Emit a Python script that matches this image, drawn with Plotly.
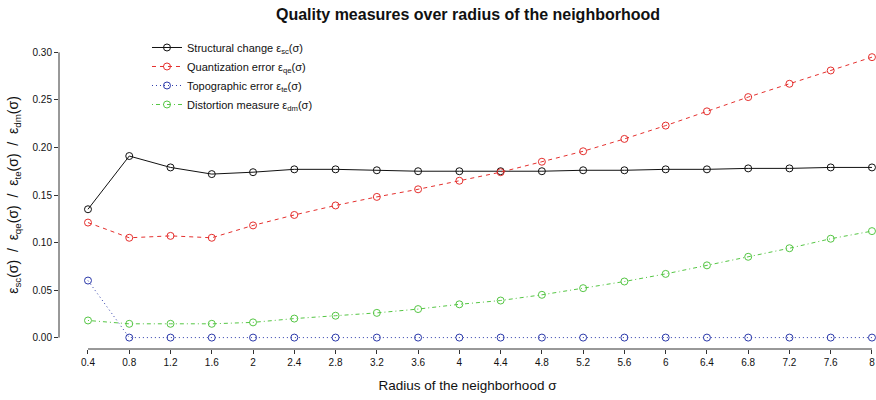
import plotly.graph_objects as go

radius = [0.4, 0.8, 1.2, 1.6, 2.0, 2.4, 2.8, 3.2, 3.6, 4.0,
          4.4, 4.8, 5.2, 5.6, 6.0, 6.4, 6.8, 7.2, 7.6, 8.0]
x_tick_labels = ["0.4", "0.8", "1.2", "1.6", "2", "2.4", "2.8", "3.2", "3.6", "4",
                 "4.4", "4.8", "5.2", "5.6", "6", "6.4", "6.8", "7.2", "7.6", "8"]
y_tick_values = [0.00, 0.05, 0.10, 0.15, 0.20, 0.25, 0.30]
y_tick_labels = ["0.00", "0.05", "0.10", "0.15", "0.20", "0.25", "0.30"]

structural_change = [0.135, 0.191, 0.179, 0.172, 0.174, 0.177, 0.177, 0.176, 0.175, 0.175,
                     0.175, 0.175, 0.176, 0.176, 0.177, 0.177, 0.178, 0.178, 0.179, 0.179]
quantization_error = [0.121, 0.105, 0.107, 0.105, 0.118, 0.129, 0.139, 0.148, 0.156, 0.165,
                      0.174, 0.185, 0.196, 0.209, 0.223, 0.238, 0.253, 0.267, 0.281, 0.295]
topographic_error = [0.060, 0.0, 0.0, 0.0, 0.0, 0.0, 0.0, 0.0, 0.0, 0.0,
                     0.0, 0.0, 0.0, 0.0, 0.0, 0.0, 0.0, 0.0, 0.0, 0.0]
distortion_measure = [0.018, 0.0145, 0.0145, 0.0145, 0.016, 0.020, 0.023, 0.026, 0.030, 0.035,
                      0.039, 0.045, 0.052, 0.059, 0.067, 0.076, 0.085, 0.094, 0.104, 0.112]

series_names = ["Structural change ε<sub>sc</sub>(σ)",
                "Quantization error ε<sub>qe</sub>(σ)",
                "Topographic error ε<sub>te</sub>(σ)",
                "Distortion measure ε<sub>dm</sub>(σ)"]
series_values = [structural_change, quantization_error, topographic_error, distortion_measure]
series_colors = ["#111111", "#E5302E", "#2C3AAA", "#55C644"]
series_dash = ["solid", "4px,4px", "1px,3px", "1px,3px,4px,3px"]

FONT = "Liberation Sans, Arial, Helvetica, sans-serif"

W, H = 876, 400

fig = go.Figure()
for name, vals, col, dash in zip(series_names, series_values, series_colors, series_dash):
    fig.add_trace(go.Scatter(
        x=radius, y=vals, name=name, mode="lines+markers",
        line=dict(color=col, width=1, dash=dash),
        marker=dict(symbol="circle-open", size=7, color=col, line=dict(width=1, color=col)),
        cliponaxis=False,
    ))

# R-style detached axis lines
fig.add_shape(type="line", xref="x", yref="paper", x0=radius[0], x1=radius[-1], y0=0, y1=0,
              line=dict(color="#333333", width=1))
fig.add_shape(type="line", xref="paper", yref="y", x0=0, x1=0,
              y0=y_tick_values[0], y1=y_tick_values[-1],
              line=dict(color="#333333", width=1))

fig.update_layout(
    width=W, height=H,
    margin=dict(l=59, r=0, t=41, b=51, autoexpand=False),
    paper_bgcolor="white", plot_bgcolor="white",
    font=dict(family=FONT, color="#111111"),
    title=dict(text="<b>Quality measures over radius of the neighborhood</b>",
               x=468 / W, xanchor="center", y=1 - 14.5 / H, yanchor="middle",
               font=dict(size=16, family=FONT, color="#111111")),
    showlegend=True,
    legend=dict(x=0.1077, y=1.026, xanchor="left", yanchor="top",
                bgcolor="rgba(0,0,0,0)", borderwidth=0,
                font=dict(size=11, family=FONT, color="#111111"),
                tracegroupgap=0),
    xaxis=dict(range=[0.119, 8.039], tickmode="array", tickvals=radius, ticktext=x_tick_labels,
               automargin=False,
               showgrid=False, zeroline=False, showline=False,
               ticks="outside", ticklen=4, tickcolor="#333333",
               tickfont=dict(size=10, family=FONT, color="#111111"),
               title=dict(text="Radius of the neighborhood σ", standoff=13,
                          font=dict(size=13.5, family=FONT, color="#111111"))),
    yaxis=dict(range=[-0.012, 0.312], tickmode="array", tickvals=y_tick_values, ticktext=y_tick_labels,
               automargin=False,
               showgrid=False, zeroline=False, showline=False,
               ticks="outside", ticklen=4, tickcolor="#333333",
               tickfont=dict(size=10, family=FONT, color="#111111"),
               title=dict(text="ε<sub>sc</sub>(σ)  /  ε<sub>qe</sub>(σ)  /  ε<sub>te</sub>(σ)  /  ε<sub>dm</sub>(σ)",
                          standoff=10,
                          font=dict(size=14, family=FONT, color="#111111"))),
)

# remove the browser's default 8px body margin so the figure fills the window exactly
fig.write_html("out.html",
               config={"displayModeBar": False},
               post_script="document.body.style.margin='0';document.body.style.overflow='hidden';")
